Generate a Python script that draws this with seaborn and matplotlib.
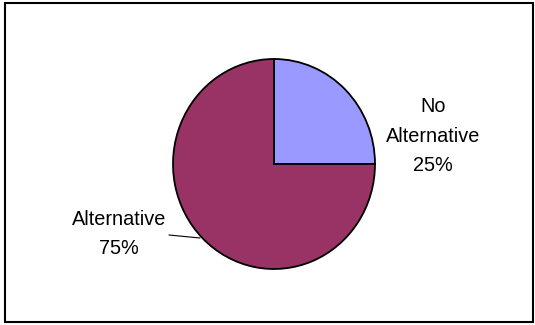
import matplotlib
matplotlib.use("Agg")
import matplotlib.pyplot as plt
from matplotlib.patches import Rectangle
from matplotlib.lines import Line2D
import seaborn as sns

categories = ["No\nAlternative", "Alternative"]
values = [25, 75]
pct_labels = ["25%", "75%"]

sns.set_theme(style="white")
plt.rcParams['font.family'] = ['Liberation Sans', 'DejaVu Sans']
plt.rcParams['text.color'] = 'black'
colors = sns.color_palette(["#9999FF", "#993366"])

W, H = 535, 325
fig = plt.figure(figsize=(W / 100, H / 100), dpi=100)
fig.patch.set_facecolor("white")

# outer frame
fig.patches.append(Rectangle((5 / W, 3 / H), 528 / W, 319 / H, transform=fig.transFigure,
                             fill=False, edgecolor="black", linewidth=1.5))

cx, cy, rx, ry = 274, 164, 101, 105
ax = fig.add_axes([(cx - rx) / W, (H - cy - ry) / H, 2 * rx / W, 2 * ry / H])
ax.pie(values, colors=colors, startangle=90, counterclock=False,
       wedgeprops=dict(edgecolor="black", linewidth=1.3))
ax.set_aspect("auto")
ax.set_xlim(-1, 1)
ax.set_ylim(-1, 1)
ax.axis("off")

def to_data(px, py):
    return (px - cx) / rx, (cy - py) / ry

x1, y1 = to_data(433, 136)
ax.text(x1, y1, f"{categories[0]}\n{pct_labels[0]}", ha="center", va="center",
        fontsize=14.3, linespacing=1.7, color="black", clip_on=False)
x2, y2 = to_data(119, 234)
ax.text(x2, y2, f"{categories[1]}\n{pct_labels[1]}", ha="center", va="center",
        fontsize=14.3, linespacing=1.7, color="black", clip_on=False)
a, b = to_data(169, 235)
c, d = to_data(200, 238)
ax.add_line(Line2D([a, c], [b, d], color="black", linewidth=0.8, clip_on=False))

fig.savefig("out.png", dpi=100, facecolor="white")
